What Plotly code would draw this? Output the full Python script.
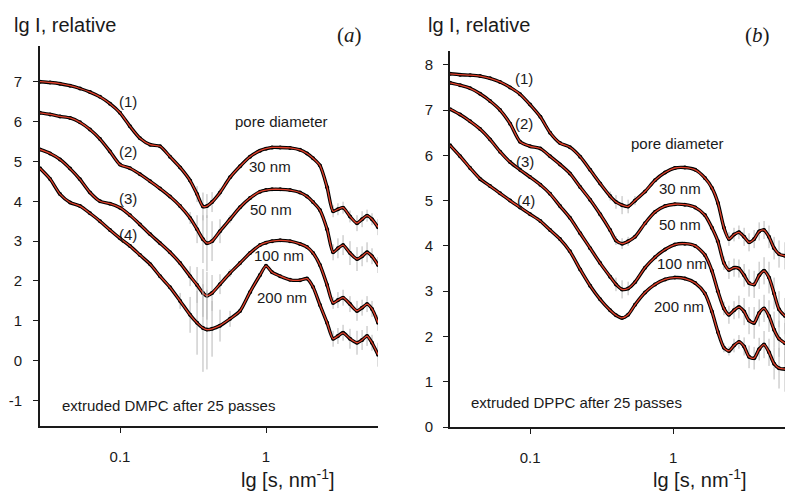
import plotly.graph_objects as go

# ---------------- Panel (a): extruded DMPC ----------------
S_A = [0.0283, 0.0332, 0.0388, 0.0455, 0.0532, 0.0623, 0.0730, 0.0854, 0.100, 0.117,
       0.137, 0.161, 0.188, 0.220, 0.258, 0.302, 0.337, 0.370, 0.394, 0.427,
       0.484, 0.567, 0.664, 0.777, 0.910, 1.00, 1.10, 1.25, 1.46, 1.71,
       1.91, 2.10, 2.34, 2.62, 2.88, 3.11, 3.37, 3.76, 4.20, 4.55,
       4.92, 5.32, 5.85]
A1 = [7.00, 6.98, 6.95, 6.90, 6.83, 6.74, 6.62, 6.45, 6.22, 5.88,
      5.58, 5.42, 5.38, 5.12, 4.85, 4.52, 4.18, 3.87, 3.88, 3.98,
      4.22, 4.60, 4.88, 5.12, 5.27, 5.32, 5.35, 5.35, 5.34, 5.29,
      5.20, 5.08, 4.90, 4.35, 3.75, 3.80, 3.84, 3.62, 3.45, 3.55,
      3.64, 3.55, 3.35]
A2 = [6.22, 6.18, 6.13, 6.09, 5.98, 5.80, 5.56, 5.25, 4.92, 4.83,
      4.68, 4.50, 4.32, 4.12, 3.88, 3.58, 3.30, 3.05, 2.95, 3.00,
      3.25, 3.55, 3.85, 4.08, 4.24, 4.28, 4.30, 4.30, 4.28, 4.22,
      4.12, 3.98, 3.78, 3.30, 2.72, 2.82, 2.90, 2.70, 2.55, 2.62,
      2.72, 2.62, 2.40]
A3 = [5.30, 5.20, 5.05, 4.82, 4.55, 4.22, 4.00, 3.94, 3.84, 3.65,
      3.42, 3.17, 2.95, 2.72, 2.45, 2.12, 1.90, 1.70, 1.63, 1.70,
      1.92, 2.20, 2.45, 2.70, 2.90, 2.96, 3.00, 3.02, 3.00, 2.93,
      2.85, 2.70, 2.40, 1.90, 1.45, 1.52, 1.58, 1.42, 1.25, 1.33,
      1.42, 1.30, 0.95]
A4 = [4.83, 4.56, 4.18, 3.97, 3.88, 3.70, 3.50, 3.28, 3.07, 2.88,
      2.65, 2.42, 2.12, 1.84, 1.50, 1.15, 0.95, 0.82, 0.78, 0.80,
      0.88, 1.05, 1.25, 1.72, 2.15, 2.38, 2.22, 2.12, 2.03, 2.02,
      2.06, 1.85, 1.40, 0.95, 0.55, 0.62, 0.70, 0.55, 0.45, 0.52,
      0.62, 0.45, 0.15]
EA1 = [0, 0, 0, 0, 0, 0, 0, 0, 0, 0, 0, 0, 0, 0, 0, 0.08, 0.2, 0.35, 0.3, 0.25,
       0.1, 0, 0, 0, 0, 0, 0, 0, 0, 0, 0, 0, 0, 0, 0.15, 0.15, 0.15, 0.15, 0.2, 0.2,
       0.15, 0.15, 0.2]
EA2 = [0, 0, 0, 0, 0, 0, 0, 0, 0, 0, 0, 0, 0, 0, 0, 0.15, 0.35, 0.6, 0.7, 0.5,
       0.3, 0.1, 0, 0, 0, 0, 0, 0, 0, 0, 0, 0, 0, 0, 0.2, 0.25, 0.25, 0.3, 0.3, 0.25,
       0.25, 0.2, 0.2]
EA3 = [0, 0, 0, 0, 0, 0, 0, 0, 0, 0, 0, 0, 0, 0, 0, 0.25, 0.45, 0.6, 0.6, 0.45,
       0.25, 0.1, 0, 0, 0, 0, 0, 0, 0, 0, 0, 0, 0, 0, 0.15, 0.2, 0.2, 0.2, 0.25, 0.2,
       0.2, 0.2, 0.2]
EA4 = [0, 0, 0, 0, 0, 0, 0, 0, 0, 0, 0, 0, 0, 0, 0.2, 0.45, 0.8, 1.1, 1.0, 0.7,
       0.4, 0.2, 0, 0, 0, 0, 0, 0, 0, 0, 0, 0, 0, 0, 0.2, 0.2, 0.2, 0.25, 0.3, 0.25,
       0.25, 0.2, 0.3]

# ---------------- Panel (b): extruded DPPC ----------------
S_B = [0.0276, 0.0324, 0.0381, 0.0447, 0.0525, 0.0617, 0.0725, 0.0851, 0.100, 0.118,
       0.138, 0.162, 0.190, 0.224, 0.263, 0.309, 0.363, 0.399, 0.440, 0.485,
       0.542, 0.637, 0.748, 0.879, 1.03, 1.21, 1.43, 1.67, 1.87, 2.06,
       2.27, 2.46, 2.67, 2.89, 3.14, 3.40, 3.69, 4.00, 4.33, 4.69,
       5.09, 5.51, 6.07]
B1 = [7.80, 7.78, 7.77, 7.75, 7.70, 7.62, 7.50, 7.35, 7.12, 6.85,
      6.50, 6.27, 6.18, 5.97, 5.68, 5.38, 5.10, 4.97, 4.90, 4.87,
      5.00, 5.20, 5.45, 5.62, 5.72, 5.73, 5.68, 5.50, 5.28, 4.95,
      4.40, 4.15, 4.25, 4.30, 4.20, 4.08, 4.15, 4.32, 4.35, 4.20,
      3.95, 3.82, 3.78]
B2 = [7.60, 7.55, 7.48, 7.36, 7.20, 7.00, 6.70, 6.30, 6.20, 6.15,
      5.98, 5.80, 5.60, 5.30, 5.02, 4.70, 4.35, 4.12, 4.05, 4.10,
      4.20, 4.50, 4.75, 4.88, 4.92, 4.91, 4.85, 4.68, 4.40, 4.10,
      3.62, 3.47, 3.52, 3.50, 3.35, 3.18, 3.15, 3.35, 3.45, 3.30,
      2.95, 2.60, 2.45]
B3 = [7.02, 6.90, 6.75, 6.58, 6.35, 6.08, 5.85, 5.68, 5.52, 5.35,
      5.15, 4.88, 4.62, 4.28, 3.95, 3.62, 3.32, 3.15, 3.04, 3.06,
      3.20, 3.52, 3.75, 3.92, 4.03, 4.05, 4.00, 3.80, 3.45, 3.00,
      2.62, 2.48, 2.58, 2.65, 2.55, 2.35, 2.30, 2.52, 2.62, 2.45,
      2.15, 1.95, 1.85]
B4 = [6.22, 5.98, 5.72, 5.48, 5.32, 5.16, 5.00, 4.85, 4.70, 4.55,
      4.35, 4.15, 3.88, 3.48, 3.12, 2.82, 2.58, 2.47, 2.41, 2.48,
      2.70, 2.97, 3.15, 3.26, 3.30, 3.28, 3.18, 2.95, 2.55, 2.10,
      1.75, 1.68, 1.80, 1.88, 1.78, 1.55, 1.52, 1.72, 1.82, 1.65,
      1.40, 1.30, 1.28]
EB1 = [0, 0, 0, 0, 0, 0, 0, 0, 0, 0, 0, 0, 0, 0, 0, 0, 0.1, 0.15, 0.2, 0.15,
       0.1, 0, 0, 0, 0, 0, 0, 0, 0, 0, 0.1, 0.15, 0.15, 0.15, 0.2, 0.2, 0.2, 0.2, 0.2, 0.25,
       0.25, 0.3, 0.3]
EB2 = [0, 0, 0, 0, 0, 0, 0, 0, 0, 0, 0, 0, 0, 0, 0, 0, 0, 0.1, 0.12, 0.1,
       0, 0, 0, 0, 0, 0, 0, 0, 0, 0, 0.15, 0.2, 0.2, 0.2, 0.25, 0.3, 0.3, 0.3, 0.3, 0.35,
       0.35, 0.4, 0.4]
EB3 = [0, 0, 0, 0, 0, 0, 0, 0, 0, 0, 0, 0, 0, 0, 0, 0, 0, 0.15, 0.2, 0.15,
       0, 0, 0, 0, 0, 0, 0, 0, 0, 0, 0.15, 0.2, 0.2, 0.25, 0.3, 0.3, 0.35, 0.3, 0.3, 0.35,
       0.4, 0.4, 0.45]
EB4 = [0, 0, 0, 0, 0, 0, 0, 0, 0, 0, 0, 0, 0, 0, 0, 0, 0, 0, 0, 0,
       0, 0, 0, 0, 0, 0, 0, 0, 0, 0, 0.1, 0.1, 0.15, 0.15, 0.2, 0.25, 0.25, 0.25, 0.3, 0.3,
       0.35, 0.45, 0.5]

Y_TICKS_A = [-1, 0, 1, 2, 3, 4, 5, 6, 7]
Y_TICKS_B = [0, 1, 2, 3, 4, 5, 6, 7, 8]
X_TICKS = [0.1, 1]
X_TICKTEXT = ["0.1", "1"]

FONT = "Arial, Liberation Sans, sans-serif"
RED = "#e2412b"

fig = go.Figure()


def add_curve(x, y, err, xa, ya):
    fig.add_trace(go.Scatter(
        x=x, y=y, mode="lines+markers", xaxis=xa, yaxis=ya,
        line=dict(color="black", width=3.4, shape="spline", smoothing=0.7),
        marker=dict(color="black", size=4),
        error_y=dict(type="data", array=err, visible=True, color="#b8b8b8",
                     thickness=1, width=0),
        showlegend=False, hoverinfo="skip"))
    fig.add_trace(go.Scatter(
        x=x, y=y, mode="lines", xaxis=xa, yaxis=ya,
        line=dict(color=RED, width=1.3, shape="spline", smoothing=0.7),
        showlegend=False, hoverinfo="skip"))


for yv, ev in [(A1, EA1), (A2, EA2), (A3, EA3), (A4, EA4)]:
    add_curve(S_A, yv, ev, "x", "y")
for yv, ev in [(B1, EB1), (B2, EB2), (B3, EB3), (B4, EB4)]:
    add_curve(S_B, yv, ev, "x2", "y2")

W, H = 785, 499
axis_common = dict(showline=True, linecolor="#1a1a1a", linewidth=1.6,
                   ticks="outside", ticklen=5, tickwidth=1.3, tickcolor="#1a1a1a",
                   showgrid=False, zeroline=False,
                   tickfont=dict(family=FONT, size=15, color="#1a1a1a"))

fig.update_layout(
    width=W, height=H, margin=dict(l=0, r=0, t=0, b=0),
    plot_bgcolor="white", paper_bgcolor="white", showlegend=False,
    xaxis=dict(type="log", domain=[40 / W, 378 / W], range=[-1.548, 0.767],
               tickvals=X_TICKS, ticktext=X_TICKTEXT, anchor="y",
               ticklabelstandoff=11, **axis_common),
    yaxis=dict(domain=[1 - 433 / H, 1 - 47 / H], range=[-1.64, 7.89],
               tickvals=Y_TICKS_A, ticktext=[str(v) for v in Y_TICKS_A], anchor="x",
               ticklabelstandoff=8, **axis_common),
    xaxis2=dict(type="log", domain=[450 / W, 1.0], range=[-1.56, 0.783],
                tickvals=X_TICKS, ticktext=X_TICKTEXT, anchor="y2",
                ticklabelstandoff=11, **axis_common),
    yaxis2=dict(domain=[1 - 434 / H, 1 - 52 / H], range=[0, 8.30],
                tickvals=Y_TICKS_B, ticktext=[str(v) for v in Y_TICKS_B], anchor="x2",
                ticklabelstandoff=7, **axis_common),
)

ann = []


def paper_text(text, px, py, size, xanchor="left", family=FONT):
    ann.append(dict(text=text, x=px / W, y=1 - py / H, xref="paper", yref="paper",
                    xanchor=xanchor, yanchor="middle", showarrow=False,
                    font=dict(family=family, size=size, color="#1a1a1a")))


def data_text(text, lgs, yv, xr, yr, size=15):
    ann.append(dict(text=text, x=lgs, y=yv, xref=xr, yref=yr, xanchor="center",
                    yanchor="middle", showarrow=False,
                    font=dict(family=FONT, size=size, color="#1a1a1a")))


paper_text("lg I, relative", 12, 25, 20)
paper_text("lg I, relative", 426, 25, 20)
SERIF = "Liberation Serif, Times New Roman, serif"
paper_text("(<i>a</i>)", 349, 36, 21, "center", SERIF)
paper_text("(<i>b</i>)", 757, 36, 21, "center", SERIF)
paper_text("lg [s, nm<sup>-1</sup>]", 288, 486, 20, "center")
paper_text("lg [s, nm<sup>-1</sup>]", 700, 486, 20, "center")

# panel (a) labels
for t, y in [("(1)", 6.50), ("(2)", 5.24), ("(3)", 4.08), ("(4)", 3.17)]:
    data_text(t, -0.945, y, "x", "y")
data_text("pore diameter", 0.103, 5.99, "x", "y")
data_text("30 nm", 0.027, 4.88, "x", "y")
data_text("50 nm", 0.034, 3.79, "x", "y")
data_text("100 nm", 0.089, 2.63, "x", "y")
data_text("200 nm", 0.110, 1.59, "x", "y")
data_text("extruded DMPC after 25 passes", -0.671, -1.12, "x", "y")

# panel (b) labels
for t, lx, y in [("(1)", -1.045, 7.70), ("(2)", -1.040, 6.70), ("(3)", -1.035, 5.86),
                 ("(4)", -1.030, 5.00)]:
    data_text(t, lx, y, "x2", "y2")
data_text("pore diameter", 0.028, 6.26, "x2", "y2")
data_text("30 nm", 0.049, 5.26, "x2", "y2")
data_text("50 nm", 0.049, 4.48, "x2", "y2")
data_text("100 nm", 0.063, 3.61, "x2", "y2")
data_text("200 nm", 0.042, 2.67, "x2", "y2")
data_text("extruded DPPC after 25 passes", -0.678, 0.54, "x2", "y2")

fig.update_layout(annotations=ann)
fig.write_html("out.html")
